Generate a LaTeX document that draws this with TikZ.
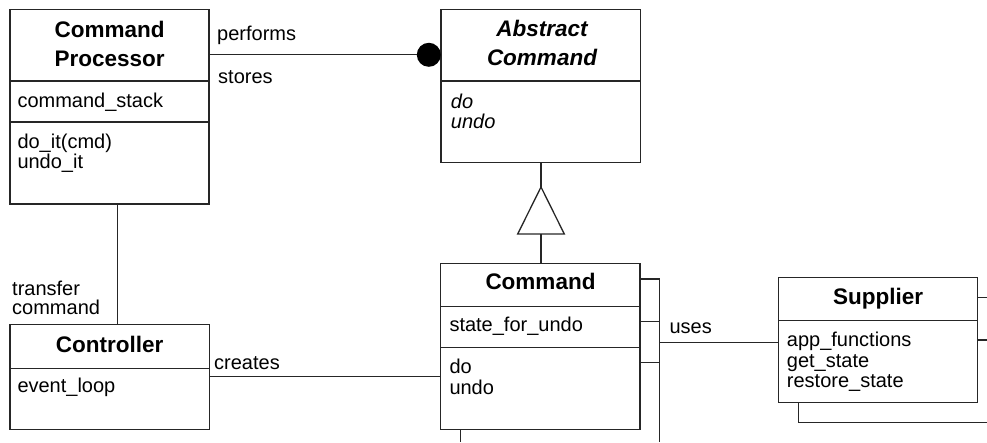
\documentclass[tikz,border=0pt]{standalone}
\usepackage{fontspec}
\setmainfont{Liberation Sans}
\begin{document}
\begin{tikzpicture}[x=1pt,y=-1pt,
  box/.style={draw=black!85, line width=1.3pt, inner sep=0pt, outer sep=0pt},
  ttl/.style={font=\fontsize{22.5}{28}\selectfont\bfseries, inner sep=0pt, anchor=base},
  ittl/.style={font=\fontsize{22.5}{28}\selectfont\bfseries\itshape, inner sep=0pt, anchor=base},
  txt/.style={font=\fontsize{20}{20.5}\selectfont, inner sep=0pt, anchor=base west},
  itxt/.style={font=\fontsize{20}{20.5}\selectfont\itshape, inner sep=0pt, anchor=base west},
  conn/.style={draw=black!85, line width=1.3pt},
]
\useasboundingbox (0,0) rectangle (987,442);

% boxes
\node[box, minimum width=199pt, minimum height=194.5pt] (cp) at (109.5,106.75) {};
\node[box, minimum width=199.5pt, minimum height=153.2pt] (ac) at (540.75,86.1) {};
\node[box, minimum width=199.3pt, minimum height=166pt] (cmd) at (540.35,346.3) {};
\node[box, minimum width=199.3pt, minimum height=105pt] (ctl) at (109.65,376.8) {};
\node[box, minimum width=199pt, minimum height=125pt] (sup) at (877.8,339.8) {};

% dividers
\draw[conn] (cp.west |- 0,81) -- (cp.east |- 0,81);
\draw[conn] (cp.west |- 0,122) -- (cp.east |- 0,122);
\draw[conn] (ac.west |- 0,81) -- (ac.east |- 0,81);
\draw[conn] (cmd.west |- 0,306.7) -- (cmd.east |- 0,306.7);
\draw[conn] (cmd.west |- 0,347.3) -- (cmd.east |- 0,347.3);
\draw[conn] (ctl.west |- 0,368.3) -- (ctl.east |- 0,368.3);
\draw[conn] (sup.west |- 0,320.7) -- (sup.east |- 0,320.7);

% texts
\node[ttl] (cpT1) at (109.7,37.3) {Command};
\node[ttl] (cpT2) at (109.7,66) {Processor};
\node[txt] (cpA) at (17.3,107) {command\_stack};
\node[txt] (cpO1) at (17.3,148) {do\_it(cmd)};
\node[txt] (cpO2) at (17.3,168) {undo\_it};

\node[ittl] (acT1) at (542,36) {Abstract};
\node[ittl] (acT2) at (542,65) {Command};
\node[itxt] (acO1) at (450.7,108) {do};
\node[itxt] (acO2) at (450.7,128) {undo};

\node[ttl] (cmdT) at (540.5,289.3) {Command};
\node[txt] (cmdA) at (449.3,331.7) {state\_for\_undo};
\node[txt] (cmdO1) at (449.3,373.3) {do};
\node[txt] (cmdO2) at (449.3,394) {undo};

\node[ttl] (ctlT) at (109.7,352.7) {Controller};
\node[txt] (ctlO) at (17.3,392.7) {event\_loop};

\node[ttl] (supT) at (878,304) {Supplier};
\node[txt] (supO1) at (786.7,346.7) {app\_functions};
\node[txt] (supO2) at (786.7,367.2) {get\_state};
\node[txt] (supO3) at (786.7,387.7) {restore\_state};

% labels
\node[txt] (lPerf) at (217,40.7) {performs};
\node[txt] (lStor) at (218,83) {stores};
\node[txt] (lTr1) at (12,295) {transfer};
\node[txt] (lTr2) at (12,314.3) {command};
\node[txt] (lCre) at (214,369.3) {creates};
\node[txt] (lUse) at (669.3,333.3) {uses};

% aggregation dot
\node[circle, fill=black, inner sep=0pt, minimum size=24pt] (dot) at (428.8,54.8) {};
\draw[conn] (cp.east |- 0,54.8) -- (dot);

% generalization
\coordinate (triTop) at (541,187);
\coordinate (triL) at (517.7,234);
\coordinate (triR) at (564.3,234);
\coordinate (triBot) at (541,234);
\draw[conn] (triTop) -- (triL) -- (triR) -- cycle;
\draw[conn] (ac.south -| triTop) -- (triTop);
\draw[conn] (triBot) -- (cmd.north -| triBot);

% transfer command
\coordinate (tc) at (117.3,0);
\draw[conn] (cp.south -| tc) -- (ctl.north -| tc);

% creates
\draw[conn] (ctl.east |- 0,376.7) -- (cmd.west |- 0,376.7);

% command right bracket
\coordinate (br1) at (659.3,279);
\coordinate (br2) at (659.3,321.7);
\coordinate (br3) at (659.3,362.7);
\coordinate (brEnd) at (659.3,442);
\coordinate (uj) at (659.3,342.7);
\draw[conn] (cmd.east |- br1) -- (br1) -- (brEnd);
\draw[conn] (cmd.east |- br2) -- (br2);
\draw[conn] (cmd.east |- br3) -- (br3);
\draw[conn] (uj) -- (sup.west |- uj);

% command bottom
\coordinate (cb) at (460.7,442);
\draw[conn] (cmd.south -| cb) -- (cb);

% supplier right
\coordinate (sr1) at (987,297.3);
\coordinate (sr2) at (987,340);
\draw[conn] (sup.east |- sr1) -- (sr1);
\draw[conn] (sup.east |- sr2) -- (sr2);
\coordinate (sb1) at (798.7,422.7);
\coordinate (sb2) at (987,422.7);
\draw[conn] (sup.south -| sb1) -- (sb1) -- (sb2);
\end{tikzpicture}
\end{document}
